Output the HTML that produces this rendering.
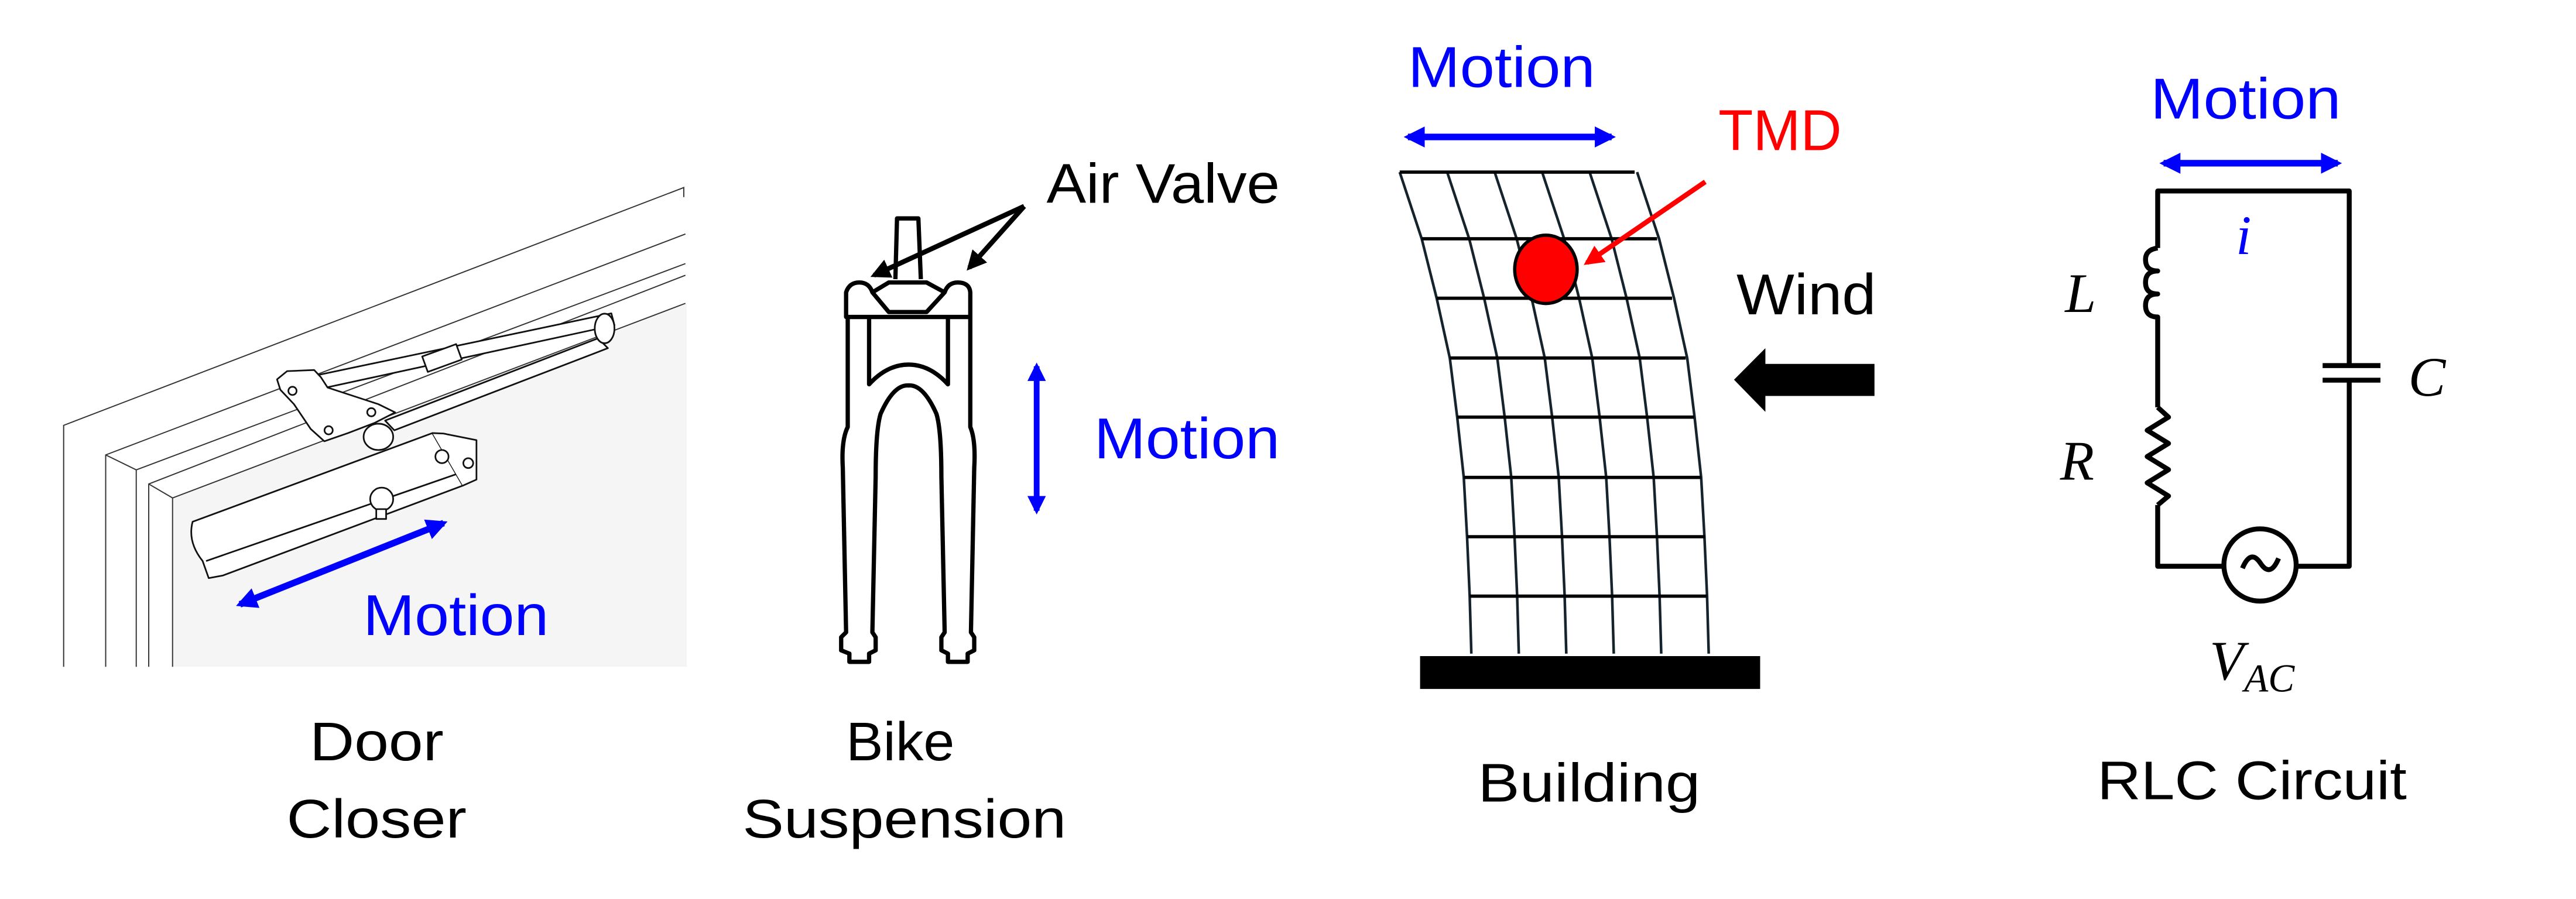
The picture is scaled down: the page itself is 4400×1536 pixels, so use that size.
<!DOCTYPE html>
<html><head><meta charset="utf-8"><style>
html,body{margin:0;padding:0;background:#fff}
svg{display:block}
text{font-family:"Liberation Sans",sans-serif}
.m{font-family:"Liberation Serif",serif;font-style:italic}
</style></head><body>
<svg width="4400" height="1536" viewBox="0 0 1568 547.4" xmlns="http://www.w3.org/2000/svg">
<defs>
<marker id="bh" viewBox="0 0 10 10" refX="8" refY="5" markerWidth="3.2" markerHeight="3.2" orient="auto-start-reverse" markerUnits="strokeWidth"><path d="M0,0 L10,5 L0,10 z" fill="#0000ff"/></marker>
<marker id="kh" viewBox="0 0 10 10" refX="8" refY="5" markerWidth="4" markerHeight="4" orient="auto" markerUnits="strokeWidth"><path d="M0,0 L10,5 L0,10 z" fill="#000"/></marker>
<marker id="rh" viewBox="0 0 10 10" refX="8" refY="5" markerWidth="4" markerHeight="4" orient="auto" markerUnits="strokeWidth"><path d="M0,0 L10,5 L0,10 z" fill="#ff0000"/></marker>
</defs>

<!-- Door closer -->
<polygon points="105,303.2 418,184.7 418,406 105,406" fill="#f5f5f5"/>
<g stroke="#333" stroke-width="0.7" fill="none">
<path d="M38.7,406 L38.7,259 L416.2,114.2 L416.2,120"/>
<path d="M64.3,406 L64.3,277 L417.2,142.5"/>
<path d="M64.3,277 L82.9,286.1 L417.2,160.5"/>
<path d="M82.9,286.1 L82.9,406"/>
<path d="M90.5,406 L90.5,294.7 L417.2,167.6"/>
<path d="M90.5,294.7 L105,303.2 L417.2,184.7"/>
<path d="M105,303.2 L105,406"/>
</g>
<g stroke="#111" stroke-width="1" fill="#fff" stroke-linejoin="round">
<path d="M174.7,232.3 L372.1,190.8 L374,198 L189.1,238 Z"/>
<path d="M234.4,256.1 L364,206 L370,212 L240,262 Z"/>
<polygon points="168.6,231 174.7,226 191.2,225.3 195.3,229.7 199.4,236 230.3,246.1 240.5,251.1 228.2,257.4 211.8,263.7 197.4,268.7 189.1,261.2 178.9,246.1 170.6,237.3"/>
<rect x="258" y="213" width="22" height="10" transform="rotate(-20 269 218)"/>
<ellipse cx="368" cy="200" rx="6" ry="9"/>
<ellipse cx="230.3" cy="266" rx="9" ry="8"/>
<path d="M117.2,317.7 L263.2,263.7 L281.7,295.7 L135.7,350.4 L127,352 L123.3,341.6 Q114,330 117.2,317.7 Z"/>
<path d="M125.4,341.6 L277.5,288.8" fill="none"/>
<path d="M263.2,263.7 L270,264 L290,268 L290,292 L281.7,295.7"/>
<circle cx="232.3" cy="303.9" r="7"/>
<rect x="229" y="310" width="6" height="6"/>
<circle cx="269" cy="278" r="4"/><circle cx="285" cy="282" r="3"/>
<circle cx="178" cy="238" r="2.5"/><circle cx="200" cy="262" r="2.5"/><circle cx="226" cy="251" r="2.5"/>
</g>
<line x1="146" y1="368" x2="270" y2="318.5" stroke="#0000ff" stroke-width="4" marker-start="url(#bh)" marker-end="url(#bh)"/>
<text x="221" y="386.6" font-size="35" fill="#0000ff" textLength="113" lengthAdjust="spacingAndGlyphs">Motion</text>
<text x="188.5" y="463" font-size="33" textLength="81.5" lengthAdjust="spacingAndGlyphs">Door</text>
<text x="174.4" y="510" font-size="33" textLength="109.6" lengthAdjust="spacingAndGlyphs">Closer</text>

<!-- Bike fork -->
<g stroke="#000" stroke-width="2.6" fill="none" stroke-linejoin="round">
<path d="M545,170 L546,133 L559,133 L560.5,170"/>
<path d="M515,193 L515,178 Q517,172 523,172 Q529,172 531,178 L541,172 L564,172 L575,178 Q577,172 583,172 Q590,172 590.6,178 L590.6,193 Z"/>
<path d="M531,178 L541,190 L564,190 L575,178"/>
<path d="M516,193 L516,260 Q512,268 513,285 L515,385 L512,388 L512,396 L517,398 L517,403 L529,403 L529,398 L533,396 L533,388 L531,385 L533,290 Q533,262 536,252 Q544,234 553,234.7 Q562,234 570,252 Q573,262 573,290 L575,385 L573,388 L573,396 L577,398 L577,403 L589,403 L589,398 L593,396 L593,388 L591,385 L593,285 Q594,268 590.6,260 L590.6,193"/>
<path d="M529,193 L529,234 Q540,222 553,222 Q566,222 577,234 L577,193"/>
</g>
<text x="637" y="123.4" font-size="34" textLength="142" lengthAdjust="spacingAndGlyphs">Air Valve</text>
<line x1="623.4" y1="125.6" x2="532" y2="167.6" stroke="#000" stroke-width="3" marker-end="url(#kh)"/>
<line x1="623.4" y1="125.6" x2="590" y2="163" stroke="#000" stroke-width="3" marker-end="url(#kh)"/>
<line x1="631" y1="223" x2="631" y2="311" stroke="#0000ff" stroke-width="3.5" marker-start="url(#bh)" marker-end="url(#bh)"/>
<text x="666" y="279" font-size="35" fill="#0000ff" textLength="113" lengthAdjust="spacingAndGlyphs">Motion</text>
<text x="515" y="463" font-size="33" textLength="66" lengthAdjust="spacingAndGlyphs">Bike</text>
<text x="452" y="510" font-size="33" textLength="197" lengthAdjust="spacingAndGlyphs">Suspension</text>

<!-- Building -->
<text x="857" y="53" font-size="35" fill="#0000ff" textLength="114" lengthAdjust="spacingAndGlyphs">Motion</text>
<line x1="857" y1="83.4" x2="981" y2="83.4" stroke="#0000ff" stroke-width="4" marker-start="url(#bh)" marker-end="url(#bh)"/>
<text x="1046" y="91.4" font-size="35" fill="#ff0000" textLength="75" lengthAdjust="spacingAndGlyphs">TMD</text>
<g stroke="#14232c" stroke-width="1.6" fill="none">
<path d="M852,104.8 L865.4,145.4 L874.5,181.6 L882.5,218 L887,254 L891,290.7 L893,326.8 L894.6,363 L895.6,398"/>
<path d="M880.9,104.8 L894.3,145.4 L903.4,181.6 L911.4,218 L915.9,254 L919.9,290.7 L921.9,326.8 L923.5,363 L924.5,398"/>
<path d="M909.8,104.8 L923.2,145.4 L932.3,181.6 L940.3,218 L944.8,254 L948.8,290.7 L950.8,326.8 L952.4,363 L953.4,398"/>
<path d="M938.7,104.8 L952.1,145.4 L961.2,181.6 L969.2,218 L973.7,254 L977.7,290.7 L979.7,326.8 L981.3,363 L982.3,398"/>
<path d="M967.6,104.8 L981,145.4 L990.1,181.6 L998.1,218 L1002.6,254 L1006.6,290.7 L1008.6,326.8 L1010.2,363 L1011.2,398"/>
<path d="M996.5,104.8 L1009.9,145.4 L1019,181.6 L1027,218 L1031.5,254 L1035.5,290.7 L1037.5,326.8 L1039.1,363 L1040.1,398"/>
</g>
<g stroke="#000" stroke-width="2">
<line x1="852" y1="104.8" x2="995" y2="104.8"/>
<line x1="865.4" y1="145.4" x2="1008.7" y2="145.4"/>
<line x1="874.5" y1="181.6" x2="1017.8" y2="181.6"/>
<line x1="882.5" y1="218" x2="1026.1" y2="218"/>
<line x1="887" y1="254" x2="1031.3" y2="254"/>
<line x1="891" y1="290.7" x2="1035.4" y2="290.7"/>
<line x1="893" y1="326.8" x2="1037.9" y2="326.8"/>
<line x1="894.6" y1="363" x2="1038.9" y2="363"/>
</g>
<rect x="864.4" y="399.5" width="207" height="20" fill="#000"/>
<ellipse cx="941" cy="164" rx="19" ry="20.8" fill="#ff0000" stroke="#000" stroke-width="2"/>
<line x1="1038" y1="110.7" x2="966" y2="160" stroke="#ff0000" stroke-width="3" marker-end="url(#rh)"/>
<text x="1057" y="191.4" font-size="35" textLength="85" lengthAdjust="spacingAndGlyphs">Wind</text>
<polygon points="1141,221.6 1074.6,221.6 1074.6,212 1055.5,231.2 1074.6,250.8 1074.6,241.1 1141,241.1" fill="#000"/>
<text x="899.6" y="488" font-size="33" textLength="135.4" lengthAdjust="spacingAndGlyphs">Building</text>

<!-- RLC circuit -->
<text x="1309" y="72.2" font-size="35" fill="#0000ff" textLength="116" lengthAdjust="spacingAndGlyphs">Motion</text>
<line x1="1317" y1="99.4" x2="1423" y2="99.4" stroke="#0000ff" stroke-width="4" marker-start="url(#bh)" marker-end="url(#bh)"/>
<g stroke="#000" stroke-width="3" fill="none" stroke-linejoin="round">
<path d="M1313.4,151 L1313.4,116.3 L1430,116.3 L1430,222.6"/>
<path d="M1430,231.5 L1430,344.8 L1397.7,344.8"/>
<path d="M1353.7,344.8 L1313.4,344.8 L1313.4,307.5"/>
<path d="M1313.4,151 Q1306,152 1306,158 Q1306,165 1313.4,165 Q1306,165 1306,172 Q1306,179 1313.4,179 Q1306,179 1306,186 Q1306,193 1313.4,193 L1313.4,248"/>
<path d="M1313.4,248 L1320,254 L1307,262 L1320,270 L1307,278 L1320,286 L1307,294 L1320,302 L1313.4,307.5"/>
<line x1="1413.8" y1="222.6" x2="1449" y2="222.6"/>
<line x1="1413.8" y1="231.5" x2="1449" y2="231.5"/>
<circle cx="1375.7" cy="344" r="22"/>
<path d="M1365,346 Q1370,334 1376,343 Q1382,352 1387,340"/>
</g>
<text x="1361" y="154.7" font-size="34" fill="#0000ff" class="m">i</text>
<text x="1257" y="190" font-size="34" class="m">L</text>
<text x="1466" y="241" font-size="34" class="m">C</text>
<text x="1254" y="292" font-size="34" class="m">R</text>
<text x="1345" y="413.7" font-size="34" class="m">V</text>
<text x="1366" y="421" font-size="24" class="m">AC</text>
<text x="1276.6" y="486.6" font-size="33" textLength="188.4" lengthAdjust="spacingAndGlyphs">RLC Circuit</text>
</svg>
</body></html>
